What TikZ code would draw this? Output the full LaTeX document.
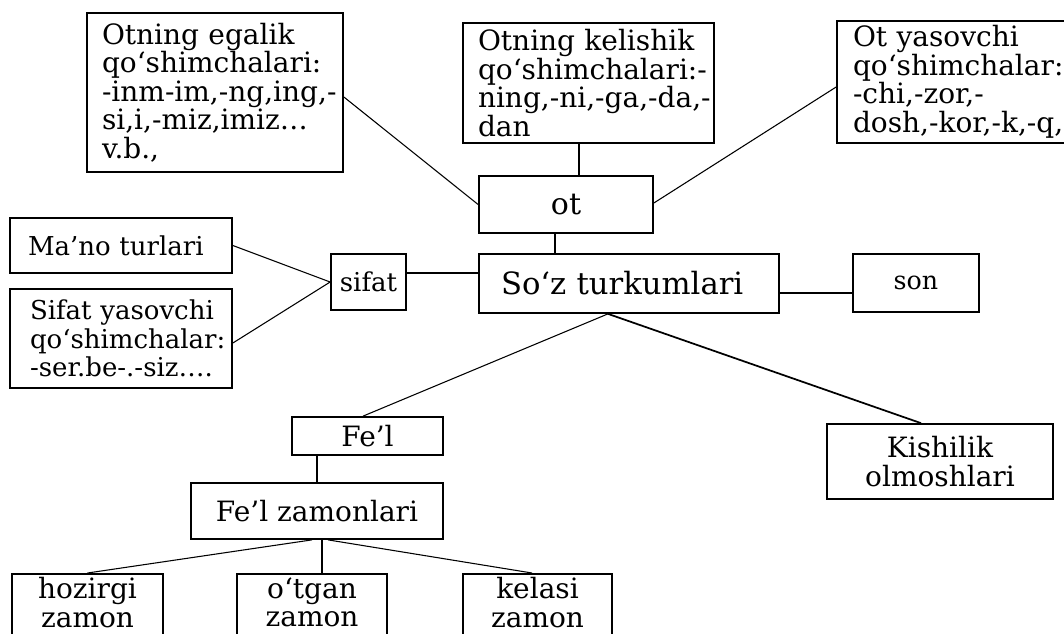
\documentclass[tikz,border=0pt]{standalone}
\usepackage{fontspec}
\setmainfont{DejaVu Serif}
\usetikzlibrary{calc}
\newcommand\lnbox[1]{\mbox{#1}}
\tikzset{
  box/.style={draw, line width=1.3pt, font=\fontsize{21pt}{21.4pt}\selectfont, inner ysep=2pt},
  smallfont/.style={font=\fontsize{19.5pt}{21.4pt}\selectfont},
  lbox/.style={box, align=left},
  cbox/.style={box, align=center},
  link/.style={line width=0.8pt},
  boldlink/.style={line width=1.3pt}
}
\begin{document}
\begin{tikzpicture}[x=0.75pt,y=-0.75pt]
\useasboundingbox (0,0) rectangle (1064,633);
% top boxes
\node[lbox, minimum width=192pt, minimum height=119.25pt, inner xsep=11.25pt, text width=169.5pt] (egalik) at (215,92.5)
  {\lnbox{Otning egalik}\\\lnbox{qo‘shimchalari:}\\\lnbox{-inm-im,-ng,ing,-}\\\lnbox{si,i,-miz,imiz…}\\\lnbox{v.b.,}};
\node[lbox, minimum width=188.25pt, minimum height=90pt, inner xsep=11.25pt, text width=165.75pt] (kelish) at (588.5,83)
  {\lnbox{Otning kelishik}\\\lnbox{qo‘shimchalari:-}\\\lnbox{ning,-ni,-ga,-da,-}\\\lnbox{dan}};
\node[lbox, minimum width=178.5pt, minimum height=91.5pt, inner xsep=12pt, text width=154.5pt] (yas) at (956,82)
  {\lnbox{Ot yasovchi}\\\lnbox{qo‘shimchalar:}\\\lnbox{-chi,-zor,-}\\\lnbox{dosh,-kor,-k,-q,}};
\node[cbox, minimum width=130.5pt, minimum height=42.75pt, font=\fontsize{22.5pt}{24pt}\selectfont] (ot) at (566,204.5) {ot};
% left boxes
\node[lbox, smallfont, minimum width=166.5pt, minimum height=41.25pt, inner xsep=13.5pt, text width=139.5pt] (mano) at (121,245.5)
  {\lnbox{Ma’no turlari}};
\node[lbox, smallfont, minimum width=166.5pt, minimum height=74.25pt, inner xsep=15pt, text width=136.5pt] (syas) at (121,338.5)
  {\lnbox{Sifat yasovchi}\\\lnbox{qo‘shimchalar:}\\\lnbox{-ser.be-.-siz….}};
\node[cbox, smallfont, minimum width=56.25pt, minimum height=42pt, inner xsep=2pt] (sifat) at (368.5,282) {sifat};
% middle row
\node[lbox, minimum width=225pt, minimum height=44.25pt, inner xsep=16.5pt, text width=192pt, font=\fontsize{23pt}{24pt}\selectfont] (soz) at (629,283.5) {\lnbox{So‘z turkumlari}};
\node[cbox, minimum width=94.5pt, minimum height=43.5pt, font=\fontsize{19pt}{20pt}\selectfont] (son) at (916,283) {son};
% lower
\node[cbox, minimum width=113.25pt, minimum height=28.5pt] (fel) at (367.5,436) {Fe’l};
\node[cbox, minimum width=189pt, minimum height=42pt] (zam) at (317,511) {Fe’l zamonlari};
\node[cbox, minimum width=169.5pt, minimum height=56.25pt] (kish) at (940,461.5) {Kishilik\\olmoshlari};
\node[cbox, anchor=north, minimum width=113.25pt, inner ysep=2.8pt] (hoz) at (87.5,573) {hozirgi\\zamon\\\mbox{}};
\node[cbox, anchor=north, minimum width=112.5pt, inner ysep=2.8pt] (otg) at (312,573) {o‘tgan\\zamon\\\mbox{}};
\node[cbox, anchor=north, minimum width=111.75pt, inner ysep=2.8pt] (kelasi) at (537.5,573) {kelasi\\zamon\\\mbox{}};
% connectors
\draw[link] ($(egalik.east)+(0,4.5)$) -- (ot.west);
\draw[link] ($(yas.west)+(0,5)$) -- ($(ot.east)+(0,-1.5)$);
\coordinate (k1) at ($(kelish.south)+(-9.5,0)$);
\draw[boldlink] (k1) -- (k1 |- ot.north);
\coordinate (o1) at ($(ot.south west)+(77,0)$);
\draw[boldlink] (o1) -- (o1 |- soz.north);
\coordinate (s1) at ($(sifat.east)+(0,-9)$);
\draw[boldlink] (s1) -- (s1 -| soz.west);
\draw[link] (mano.east) -- (sifat.west);
\draw[link] ($(syas.east)+(0,4.5)$) -- (sifat.west);
\coordinate (s2) at ($(soz.east)+(0,9.5)$);
\draw[boldlink] (s2) -- (s2 -| son.west);
\coordinate (s3) at ($(soz.south)+(-21,0)$);
\draw[link] (s3) -- ($(fel.north)+(-4.5,0)$);
\draw[boldlink] (s3) -- ($(kish.north)+(-19,0)$);
\draw[boldlink] (zam.north) -- (zam.north |- fel.south);
\coordinate (z1) at ($(zam.south)+(-5,0)$);
\draw[link] (z1) -- (hoz.north);
\coordinate (z2) at ($(zam.south)+(5,0)$);
\draw[boldlink] (z2) -- (z2 |- otg.north);
\coordinate (z3) at ($(zam.south)+(11,0)$);
\draw[link] (z3) -- ($(kelasi.north)+(-5.5,0)$);
\end{tikzpicture}
\end{document}
